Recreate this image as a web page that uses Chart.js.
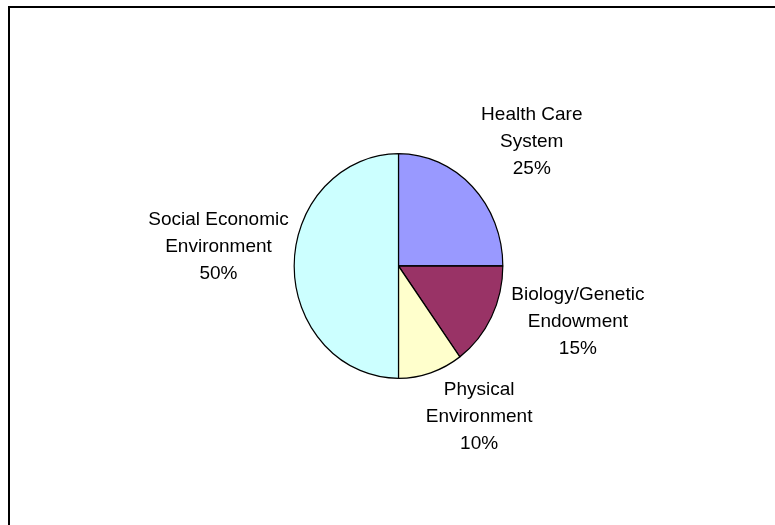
<!DOCTYPE html>
<html>
<head>
<meta charset="utf-8">
<script src="https://cdn.jsdelivr.net/npm/chart.js@4.4.1/dist/chart.umd.min.js"></script>
<style>
  html, body { margin: 0; padding: 0; background: #fff; overflow: hidden; }
  #wrap { position: relative; width: 775px; height: 525px; }
  #frame {
    position: absolute; left: 8px; top: 6px; width: 800px; height: 560px;
    border-left: 2px solid #000; border-top: 2px solid #000; box-sizing: border-box;
  }
  canvas { position: absolute; left: 0; top: 0; }
</style>
</head>
<body>
<div id="wrap">
  <div id="frame"></div>
  <canvas id="pie" width="775" height="525"></canvas>
</div>
<script>
const categories = [
  ['Health Care', 'System'],
  ['Biology/Genetic', 'Endowment'],
  ['Physical', 'Environment'],
  ['Social Economic', 'Environment']
]
const shares = [25, 15, 10, 50]
const colors = ['#9999FF', '#993366', '#FFFFCC', '#CCFFFF']

// the original pie is a bit narrower than it is tall
const squashX = 104 / 112

const ellipse = {
  id: 'ellipse',
  beforeDatasetsDraw(chart) {
    const arc = chart.getDatasetMeta(0).data[0]
    const ctx = chart.ctx
    ctx.save()
    ctx.translate(arc.x, arc.y)
    ctx.scale(squashX, 1)
    ctx.translate(-arc.x, -arc.y)
  },
  afterDatasetsDraw(chart) {
    chart.ctx.restore()
  }
}

// labels outside the slices, three lines each
const outsideLabels = {
  id: 'outsideLabels',
  afterDraw(chart, args, opts) {
    const ctx = chart.ctx
    const arcs = chart.getDatasetMeta(0).data
    ctx.save()
    ctx.font = '19px "Liberation Sans", Arial, sans-serif'
    ctx.fillStyle = '#000'
    ctx.textAlign = 'center'
    ctx.textBaseline = 'middle'
    arcs.forEach((arc, i) => {
      const mid = (arc.startAngle + arc.endAngle) / 2
      const nudge = opts.nudge[i]
      const cx = arc.x + opts.distance * Math.cos(mid) + nudge[0]
      const cy = arc.y + opts.distance * Math.sin(mid) + nudge[1]
      const lines = categories[i].concat([shares[i] + '%'])
      lines.forEach((t, k) => {
        ctx.fillText(t, cx, cy + (k - 1) * opts.lineHeight)
      })
    })
    ctx.restore()
  }
}

new Chart(document.getElementById('pie'), {
  type: 'pie',
  data: {
    labels: categories.map(c => c.join(' ')),
    datasets: [{
      data: shares,
      backgroundColor: colors,
      borderColor: '#000',
      borderWidth: 1.3
    }]
  },
  options: {
    responsive: false,
    animation: false,
    layout: {
      padding: { left: 285, right: 263, top: 153, bottom: 146 }
    },
    plugins: {
      legend: { display: false },
      tooltip: { enabled: false },
      outsideLabels: {
        distance: 180,
        lineHeight: 27,
        nudge: [[6, 3], [19, -26], [25, -20], [0, -19]]
      }
    }
  },
  plugins: [ellipse, outsideLabels]
})
</script>
</body>
</html>
